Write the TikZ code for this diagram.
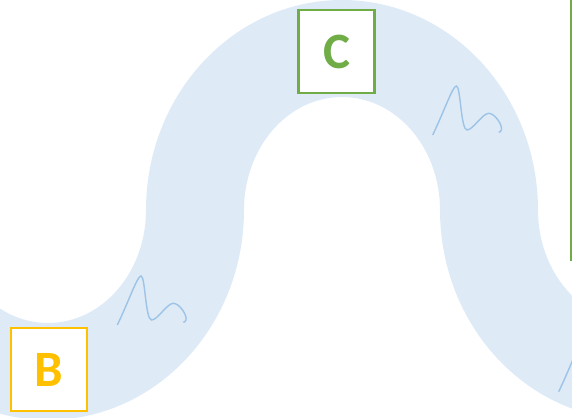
\documentclass[tikz,border=0pt]{standalone}
\usepackage{fontspec}
\setmainfont{Carlito}
\definecolor{bandebleue}{HTML}{DEEBF7}
\definecolor{orangeB}{HTML}{FFC000}
\definecolor{vertC}{HTML}{70AD47}
\definecolor{traitbleu}{HTML}{9DC3E6}
\begin{document}
\begin{tikzpicture}[x=0.02cm, y=0.02cm,
    lettre/.style={draw, fill=white, line width=1.5pt, inner sep=0pt,
      minimum width=1.52cm, minimum height=1.66cm,
      font=\fontsize{29}{29}\selectfont\bfseries},
    trait/.style={traitbleu, line width=0.8pt}]
    \useasboundingbox (0,0) rectangle (572,417);
    \clip (0,0) rectangle (572,417);

    % Dessiner la bande (forme en vague)
    \fill[bandebleue] (-148,207) arc[start angle=180, end angle=360, x radius=196, y radius=210]
        arc[start angle=180, end angle=0, x radius=98, y radius=113]
        arc[start angle=180, end angle=360, x radius=196, y radius=210]
        -- ++(-98,0)
        arc[start angle=0, end angle=-180, x radius=98, y radius=113]
        arc[start angle=0, end angle=180, x radius=196, y radius=210]
        arc[start angle=360, end angle=180, x radius=98, y radius=113]
        -- cycle;

    % Dessiner les petits traits
    \foreach \dx/\dy in {117.3/92, 432.7/282, 558.7/25.3}
        \draw[trait, shift={(\dx,\dy)}] (0,0) .. controls (12,25) and (20,49) .. (23.7,49)
            .. controls (28,49) and (28,5) .. (34.4,5)
            .. controls (40,5) and (50,21.7) .. (56,21.7)
            .. controls (62,21.7) and (70,10) .. (68.7,5)
            .. controls (68.2,3.5) and (67,2.7) .. (66,2.7);

    % Dessiner le cadre coupé à droite
    \draw[vertC, line width=0.8pt] (571,157) rectangle (700,450);

    % Dessiner les lettres
    \node[lettre, draw=orangeB, text=orangeB] (B) at (49,47.5) {\raisebox{-2pt}{B}};
    \node[lettre, draw=vertC, text=vertC] (C) at (336.5,365.5) {\raisebox{-2pt}{C}};
\end{tikzpicture}
\end{document}
